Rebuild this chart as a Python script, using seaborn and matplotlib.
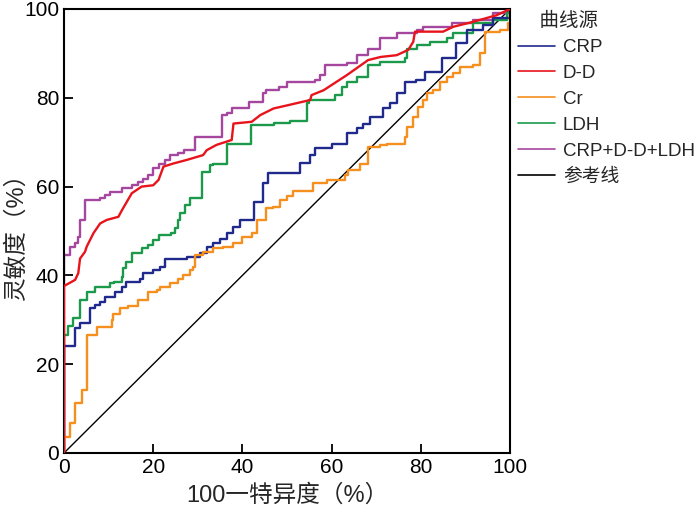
import matplotlib
matplotlib.use("Agg")
import matplotlib.pyplot as plt
import seaborn as sns

# ROC curve points (x = 100 - specificity, y = sensitivity)
crp_x = [0, 0, 2.5, 3.6, 5.8, 7.0, 8.1, 9.2, 11.4, 12.9, 14.0, 17.0, 17.8, 20.0, 21.5, 22.6, 27.5, 30.5, 32.0, 33.5,
         35.0, 36.5, 38.0, 39.5, 42.5, 44.7, 45.8, 52.9, 55.2, 56.3, 60.0, 63.4, 65.6, 67.1, 68.6, 71.6, 73.1, 74.6,
         76.4, 79.0, 81.0, 84.7, 88.0, 90.3, 94.0, 96.3, 100]
crp_y = [0, 24.1, 28.1, 29.2, 32.6, 33.4, 34.1, 35.2, 36.3, 37.5, 38.6, 39.3, 40.5, 41.2, 41.9, 43.6, 44.2, 45.0, 46.5,
         47.2, 48.3, 49.5, 51.0, 52.5, 56.6, 60.8, 63.0, 65.3, 67.1, 68.6, 69.7, 72.0, 73.1, 74.2, 75.7, 77.7, 78.8,
         81.0, 83.6, 84.0, 85.9, 88.9, 92.3, 95.3, 96.4, 97.9, 100]

dd_x = [0, 0, 2.5, 3.2, 3.6, 4.7, 5.1, 6.6, 8.1, 9.6, 12.2, 13.0, 15.2, 17.4, 20.0, 21.2, 22.3, 24.5, 27.5, 31.2, 32.0,
        34.2, 37.6, 38.0, 42.1, 44.0, 47.0, 50.5, 55.2, 55.5, 58.2, 63.4, 68.2, 71.0, 74.6, 77.2, 78.3, 78.7, 85.0,
        87.3, 91.7, 97.0, 100]
dd_y = [0, 37.6, 39.0, 40.5, 43.8, 45.3, 46.5, 49.5, 51.7, 52.5, 53.2, 54.7, 58.5, 60.0, 60.3, 61.5, 64.5, 65.2, 66.0,
        67.1, 68.2, 69.4, 70.5, 74.2, 74.6, 76.1, 77.6, 78.4, 79.5, 80.6, 81.7, 85.1, 88.5, 89.2, 89.6, 90.8, 92.6,
        94.9, 94.9, 96.0, 97.1, 98.6, 100]

cr_x = [0, 0, 1.3, 2.5, 4.0, 5.1, 7.3, 10.7, 11.0, 12.6, 14.4, 16.6, 18.8, 20.8, 21.5, 23.8, 25.6, 26.7, 28.3, 29.0,
        29.4, 31.2, 33.4, 35.7, 37.9, 39.9, 42.2, 43.2, 45.4, 46.9, 48.4, 49.9, 51.4, 55.9, 58.9, 63.0, 63.7, 66.4,
        68.2, 70.9, 72.4, 76.5, 76.9, 78.3, 79.4, 80.6, 81.3, 82.8, 84.3, 85.8, 87.3, 88.8, 91.8, 93.3, 94.4, 97.8,
        99.6, 100]
cr_y = [0, 3.6, 6.8, 11.2, 14.2, 26.6, 28.4, 30.0, 31.3, 32.6, 33.1, 34.5, 36.3, 36.7, 37.5, 38.2, 39.3, 40.1, 41.2,
        41.9, 44.6, 45.3, 46.1, 46.5, 47.2, 48.7, 49.5, 52.5, 55.1, 55.4, 57.0, 57.8, 58.9, 60.8, 61.5, 62.6, 63.7,
        65.2, 68.9, 69.3, 69.7, 71.2, 73.5, 75.7, 78.0, 79.5, 81.0, 81.7, 83.6, 84.7, 85.5, 87.0, 87.3, 90.0, 94.9,
        95.3, 96.8, 100]

ldh_x = [0, 0, 1.0, 2.1, 3.6, 5.1, 7.0, 10.3, 11.1, 12.9, 13.3, 14.0, 15.2, 17.4, 18.9, 20.0, 21.2, 24.1, 24.9, 25.6,
         26.0, 27.1, 28.3, 30.9, 32.7, 33.5, 36.5, 42.0, 47.0, 50.7, 54.4, 55.0, 60.8, 62.3, 63.4, 65.6, 68.2, 70.9,
         76.5, 76.9, 79.1, 82.1, 85.8, 87.3, 91.7, 96.3, 99.3, 100]
ldh_y = [0, 26.6, 28.6, 30.3, 34.5, 36.3, 37.5, 38.2, 38.6, 39.7, 41.6, 43.1, 45.0, 46.1, 46.8, 48.0, 49.1, 49.5, 50.6,
         52.5, 54.0, 55.9, 57.4, 63.4, 64.9, 65.2, 69.7, 73.9, 74.3, 74.8, 78.8, 79.5, 80.6, 82.5, 83.6, 84.7, 87.4,
         88.1, 88.9, 91.1, 91.9, 92.6, 93.4, 94.5, 96.8, 97.5, 99.0, 100]

comb_x = [0, 0, 1.3, 2.5, 3.2, 3.6, 4.7, 8.1, 9.2, 10.3, 12.9, 15.2, 16.7, 17.8, 18.9, 20.0, 21.2, 22.6, 23.8, 25.6,
          26.8, 29.4, 35.4, 36.5, 37.6, 41.4, 44.7, 45.4, 48.1, 49.9, 56.3, 57.4, 58.5, 63.4, 65.6, 68.2, 70.9, 74.6,
          79.1, 80.6, 87.0, 91.7, 96.3, 100]
comb_y = [0, 44.6, 46.5, 47.2, 48.7, 52.5, 57.0, 57.4, 58.1, 58.7, 59.6, 60.3, 61.0, 61.8, 62.6, 64.1, 65.2, 66.0,
          67.1, 67.5, 68.2, 71.2, 76.1, 76.5, 77.6, 79.1, 81.0, 81.7, 82.5, 83.6, 84.0, 85.1, 87.4, 87.8, 89.6, 91.1,
          93.4, 94.5, 95.3, 96.0, 96.8, 97.5, 99.0, 100]

ref_x = [0, 100]
ref_y = [0, 100]

labels = ["CRP", "D-D", "Cr", "LDH", "CRP+D-D+LDH", "参考线"]
colors = ["#1f2a8c", "#e8141c", "#f5901f", "#1a9a4a", "#a5479e", "black"]
xticks = [0, 20, 40, 60, 80, 100]

sns.set_style("ticks")
plt.rcParams["font.family"] = ["Liberation Sans", "Noto Sans CJK SC", "DejaVu Sans"]

fig = plt.figure(figsize=(7.0, 5.09), dpi=100)
ax = fig.add_axes([64 / 700, 1 - 453 / 509, (510 - 64) / 700, (453 - 9) / 509])

curves = [(crp_x, crp_y, "steps-post"), (dd_x, dd_y, "default"), (cr_x, cr_y, "steps-post"),
          (ldh_x, ldh_y, "steps-post"), (comb_x, comb_y, "steps-post")]
zorders = [2.2, 2.6, 2.3, 2.1, 2.0]
for (xs, ys, ds), lab, col, z in zip(curves, labels[:5], colors[:5], zorders):
    sns.lineplot(x=xs, y=ys, ax=ax, color=col, lw=1.7, drawstyle=ds, estimator=None,
                 sort=False, label=lab, zorder=z)

sns.lineplot(x=ref_x, y=ref_y, ax=ax, color=colors[5], lw=1.0, estimator=None, sort=False,
             label=labels[5], zorder=1.9)

ax.set_xlim(0, 100)
ax.set_ylim(0, 100)
ax.set_xticks(xticks)
ax.set_yticks(xticks)
ax.tick_params(direction="in", length=6.5, width=1.3, labelsize=15, colors="black")
for sp in ax.spines.values():
    sp.set_linewidth(1.5)
    sp.set_color("black")
ax.set_xlabel("100一特异度（%）", fontsize=17, labelpad=5.5)
ax.set_ylabel("灵敏度（%）", fontsize=17)
ax.yaxis.set_label_coords(-(64 - 28) / 446, 0.5)

leg = ax.legend(loc="upper left", bbox_to_anchor=(518 / 700, 1 - 12 / 509),
                bbox_transform=fig.transFigure, frameon=False, fontsize=13.5,
                title="    曲线源", title_fontsize=14, alignment="left",
                handlelength=1.95, handletextpad=0.45, labelspacing=0.47,
                borderpad=0, borderaxespad=0)
for h in leg.get_lines():
    h.set_linewidth(1.2)

fig.savefig("out.png", dpi=100)
